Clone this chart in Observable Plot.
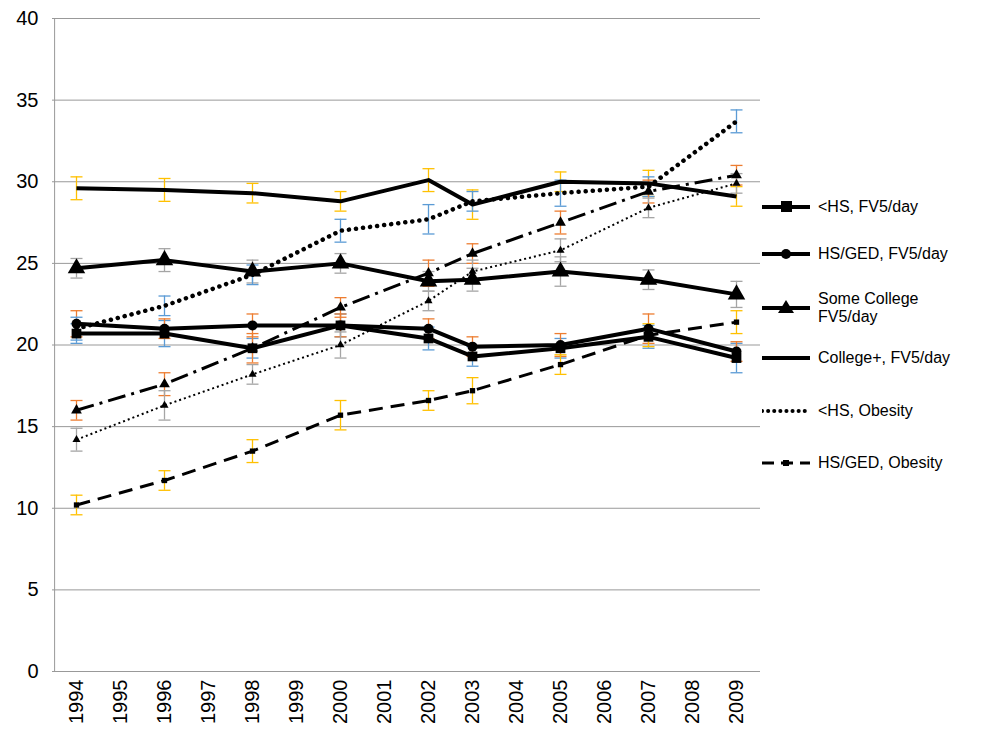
<!DOCTYPE html>
<html><head><meta charset="utf-8">
<script src="https://cdn.jsdelivr.net/npm/d3@7"></script>
<script src="https://cdn.jsdelivr.net/npm/@observablehq/plot@0.6"></script>
<style>
body{margin:0;background:#fff;font-family:"Liberation Sans",Arial,sans-serif}
#wrap{position:relative;width:1000px;height:748px}
.leg{position:absolute;left:762px;font-size:16px;display:flex;align-items:center}
.leg svg{margin-right:8px}
</style></head><body><div id="wrap"></div>
<script>
const allYears = d3.range(1994, 2010).map(String);
const years = ["1994","1996","1998","2000","2002","2003","2005","2007","2009"];
const lessHsFv = [20.7,20.7,19.8,21.2,20.4,19.3,19.8,20.5,19.2];
const hsGedFv = [21.3,21.0,21.2,21.2,21.0,19.9,20.0,21.0,19.6];
const someCollegeFv = [24.7,25.2,24.5,25.0,23.9,24.0,24.5,24.0,23.1];
const collegeFv = [29.6,29.5,29.3,28.8,30.1,28.6,30.0,29.9,29.1];
const lessHsOb = [21.0,22.4,24.3,27.0,27.7,28.8,29.3,29.7,33.7];
const hsGedOb = [10.2,11.7,13.5,15.7,16.6,17.2,18.8,20.6,21.4];
const someCollegeOb = [16.0,17.6,19.8,22.3,24.4,25.6,27.5,29.4,30.4];
const collegeOb = [14.2,16.3,18.2,20.0,22.7,24.5,25.8,28.4,29.9];
const errs = [0.6,0.8,0.6,0.7,0.7,0.6,0.6,0.7,0.9];

const series = [
 {name:"<HS, FV5/day", v:lessHsFv, dash:null, w:4, sym:"square", r:5.5, ec:"#5b9bd5"},
 {name:"HS/GED, FV5/day", v:hsGedFv, dash:null, w:4, sym:"circle", r:5, ec:"#ed7d31"},
 {name:"Some College FV5/day", v:someCollegeFv, dash:null, w:4, sym:"triangle", r:6.5, ec:"#a5a5a5"},
 {name:"College+, FV5/day", v:collegeFv, dash:null, w:4, sym:null, ec:"#ffc000"},
 {name:"<HS, Obesity", v:lessHsOb, dash:"0.1,7", w:4.5, sym:null, ec:"#5b9bd5"},
 {name:"HS/GED, Obesity", v:hsGedOb, dash:"14,8", w:3, sym:"square", r:3, ec:"#ffc000"},
 {name:"Some College, Obesity", v:someCollegeOb, dash:"18,6,3,6", w:3, sym:"triangle", r:4, ec:"#ed7d31"},
 {name:"College+, Obesity", v:collegeOb, dash:"2,3", w:2, sym:"triangle", r:3, ec:"#a5a5a5"}
];
const capSym = {draw(ctx, size){ ctx.moveTo(-6,0); ctx.lineTo(6,0); }};
const marks = [Plot.gridY(d3.range(0,41,5),{stroke:"#999",strokeOpacity:1,strokeWidth:1})];
series.forEach((s,si)=>{
  const data = years.map((y,i)=>({x:y,y:s.v[i],lo:s.v[i]-errs[(i+si)%9],hi:s.v[i]+errs[(i+si)%9]}));
  marks.push(Plot.ruleX(data,{x:"x",y1:"lo",y2:"hi",stroke:s.ec,strokeWidth:1.3}));
  marks.push(Plot.dot(data,{x:"x",y:"lo",symbol:capSym,stroke:s.ec,strokeWidth:1.3}));
  marks.push(Plot.dot(data,{x:"x",y:"hi",symbol:capSym,stroke:s.ec,strokeWidth:1.3}));
});
series.forEach(s=>{
  const data = years.map((y,i)=>({x:y,y:s.v[i]}));
  marks.push(Plot.line(data,{x:"x",y:"y",stroke:"#000",strokeWidth:s.w,strokeDasharray:s.dash,strokeLinecap:s.dash==="0.1,7"?"round":"butt"}));
  if(s.sym) marks.push(Plot.dot(data,{x:"x",y:"y",symbol:s.sym,r:s.r,fill:"#000"}));
});
marks.push(Plot.ruleY([0],{stroke:"#999"}));
marks.push(Plot.ruleX([allYears[0]],{stroke:"#999",dx:-21.9}));
const chart = Plot.plot({
  width:1000,height:748,marginLeft:52,marginRight:240,marginTop:18,marginBottom:77,
  style:{fontFamily:"Liberation Sans, Arial, sans-serif",background:"#fff"},
  x:{type:"point",domain:allYears,padding:0.5,label:null,tickRotate:-90,tickSize:0,tickPadding:8},
  y:{domain:[0,40],ticks:d3.range(0,41,5),label:null,tickSize:0,tickPadding:14},
  marks
});
chart.querySelectorAll("[aria-label='x-axis tick label'] text").forEach(t=>t.style.fontSize="20px");
chart.querySelectorAll("[aria-label='y-axis tick label'] text").forEach(t=>t.style.fontSize="20px");
document.getElementById("wrap").appendChild(chart);
const legend = [
 {t:"&lt;HS, FV5/day", y:207, dash:null, w:4, sym:"sq"},
 {t:"HS/GED, FV5/day", y:254, dash:null, w:4, sym:"ci"},
 {t:"Some College<br>FV5/day", y:308, dash:null, w:4, sym:"tr"},
 {t:"College+, FV5/day", y:358, dash:null, w:4, sym:null},
 {t:"&lt;HS, Obesity", y:411, dash:"0.1,6", w:4, sym:null},
 {t:"HS/GED, Obesity", y:463, dash:"12,7", w:3, sym:"sm"}
];
const wrap = document.getElementById("wrap");
legend.forEach(l=>{
  const d=document.createElement("div");d.className="leg";d.style.top=(l.y-20)+"px";d.style.height="40px";
  let m="";
  if(l.sym==="sq") m='<rect x="19" y="14" width="11" height="11"/>';
  if(l.sym==="ci") m='<circle cx="24" cy="20" r="5"/>';
  if(l.sym==="tr") m='<path d="M24,12L32,25L16,25Z"/>';
  if(l.sym==="sm") m='<rect x="21" y="17" width="6" height="6"/>';
  d.innerHTML=`<svg width="48" height="40"><line x1="0" x2="48" y1="20" y2="20" stroke="#000" stroke-width="${l.w}" ${l.dash?`stroke-dasharray="${l.dash}" stroke-linecap="${l.dash==='0.1,6'?'round':'butt'}"`:""}/>${m}</svg><span>${l.t}</span>`;
  wrap.appendChild(d);
});
</script></body></html>
